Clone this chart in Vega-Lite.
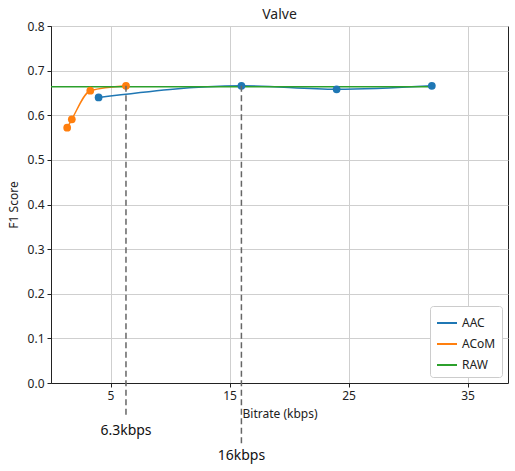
{
  "$schema": "https://vega.github.io/schema/vega-lite/v6.json",
  "width": 457,
  "height": 357,
  "autosize": "none",
  "padding": {"left": 51, "top": 26, "right": 7, "bottom": 88},
  "title": {"text": "Valve", "fontSize": 14, "fontWeight": "normal", "font": "Noto Sans", "color": "#222", "offset": -2},
  "config": {
    "view": {"stroke": "#222", "strokeWidth": 1},
    "font": "Noto Sans",
    "axis": {
      "domainColor": "#222", "tickColor": "#222", "tickSize": 4,
      "labelFont": "Noto Sans", "labelFontSize": 12, "labelColor": "#222",
      "titleFont": "Noto Sans", "titleFontSize": 12, "titleFontWeight": "normal", "titleColor": "#222",
      "gridColor": "#cfcfcf", "gridWidth": 1
    }
  },
  "datasets": {
    "series": [
      {"method": "AAC", "bitrate": 4, "f1": 0.640},
      {"method": "AAC", "bitrate": 16, "f1": 0.666},
      {"method": "AAC", "bitrate": 24, "f1": 0.658},
      {"method": "AAC", "bitrate": 32, "f1": 0.666},
      {"method": "ACoM", "bitrate": 1.36, "f1": 0.572},
      {"method": "ACoM", "bitrate": 1.75, "f1": 0.591},
      {"method": "ACoM", "bitrate": 3.3, "f1": 0.655},
      {"method": "ACoM", "bitrate": 6.3, "f1": 0.666},
      {"method": "RAW", "bitrate": 0, "f1": 0.664},
      {"method": "RAW", "bitrate": 32, "f1": 0.664}
    ],
    "marks": [
      {"bitrate": 6.3, "top": 0.666, "bottom": -0.075, "labelY": -0.107, "label": "6.3kbps"},
      {"bitrate": 16, "top": 0.666, "bottom": -0.138, "labelY": -0.164, "label": "16kbps"}
    ]
  },
  "layer": [
    {
      "data": {"name": "series"},
      "mark": {"type": "line", "interpolate": "monotone", "strokeWidth": 1.5},
      "encoding": {
        "x": {"field": "bitrate", "type": "quantitative",
              "scale": {"domain": [0, 38.4], "nice": false, "zero": false},
              "axis": {"values": [5, 15, 25, 35], "title": "Bitrate (kbps)", "titlePadding": 7, "labelPadding": 3}},
        "y": {"field": "f1", "type": "quantitative",
              "scale": {"domain": [0, 0.8], "nice": false},
              "axis": {"values": [0, 0.1, 0.2, 0.3, 0.4, 0.5, 0.6, 0.7, 0.8], "format": ".1f", "title": "F1 Score", "titlePadding": 7, "labelPadding": 3}},
        "color": {"field": "method", "type": "nominal",
                  "scale": {"domain": ["AAC", "ACoM", "RAW"], "range": ["#1f77b4", "#ff7f0e", "#2ca02c"]},
                  "legend": {"title": null, "orient": "bottom-right", "symbolType": "stroke", "symbolStrokeWidth": 2,
                             "symbolSize": 400, "labelFontSize": 12, "labelFont": "Noto Sans", "labelColor": "#222",
                             "fillColor": "white", "strokeColor": "#cccccc", "padding": 6, "cornerRadius": 3,
                             "offset": 6, "rowPadding": 4}}
      }
    },
    {
      "data": {"name": "series"},
      "transform": [{"filter": "datum.method !== 'RAW'"}],
      "mark": {"type": "point", "filled": true, "opacity": 1, "size": 60},
      "encoding": {
        "x": {"field": "bitrate", "type": "quantitative"},
        "y": {"field": "f1", "type": "quantitative"},
        "color": {"field": "method", "type": "nominal", "legend": null}
      }
    },
    {
      "data": {"name": "marks"},
      "mark": {"type": "rule", "clip": false, "strokeDash": [6, 3.5], "strokeWidth": 1.5, "color": "#666666"},
      "encoding": {
        "x": {"field": "bitrate", "type": "quantitative"},
        "y": {"field": "top", "type": "quantitative"},
        "y2": {"field": "bottom"}
      }
    },
    {
      "data": {"name": "marks"},
      "mark": {"type": "text", "clip": false, "fontSize": 14, "font": "Noto Sans", "color": "#111", "baseline": "middle", "align": "center"},
      "encoding": {
        "x": {"field": "bitrate", "type": "quantitative"},
        "y": {"field": "labelY", "type": "quantitative"},
        "text": {"field": "label"}
      }
    }
  ]
}
